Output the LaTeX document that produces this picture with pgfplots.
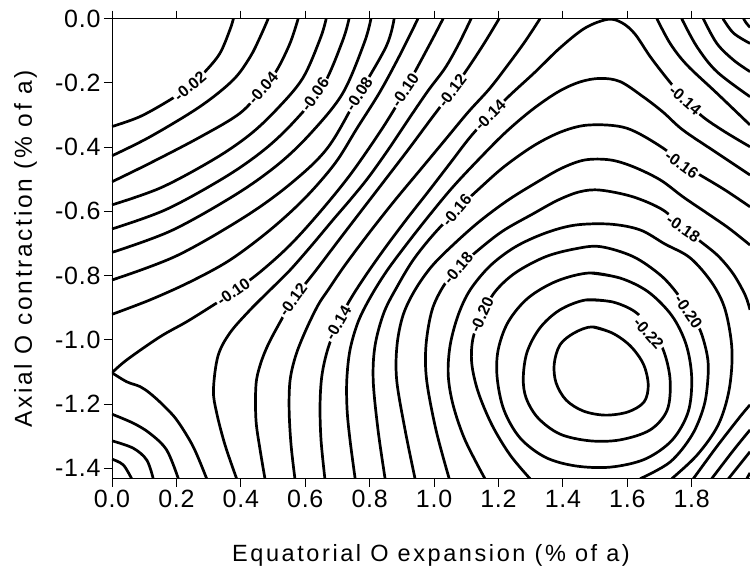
\documentclass[border=0pt]{standalone}
\usepackage{fontspec}
\setmainfont{Liberation Sans}
\newfontfamily\tickfont[LetterSpace=3]{Liberation Sans}
\newfontfamily\labfont[LetterSpace=11]{Liberation Sans}
\usepackage{pgfplots}
\pgfplotsset{compat=1.18}
\tikzset{clab/.style={fill=white,inner sep=1.6pt,font=\bfseries\fontsize{16}{16}\selectfont}}
\begin{document}
\begin{tikzpicture}
\useasboundingbox (0,0) rectangle (750pt,570pt);
\begin{axis}[
  at={(112pt,91.3pt)}, anchor=south west,
  scale only axis, width=638pt, height=460pt,
  xmin=0, xmax=1.981, ymin=-1.433, ymax=0,
  axis y line*=left,
  axis line style={black, line width=0.8pt},
  tick align=outside, major tick length=8pt,
  tick style={black, line width=0.8pt},
  xtick={0,0.2,0.4,0.6,0.8,1.0,1.2,1.4,1.6,1.8},
  xticklabels={0.0,0.2,0.4,0.6,0.8,1.0,1.2,1.4,1.6,1.8},
  ytick={0,-0.2,-0.4,-0.6,-0.8,-1.0,-1.2,-1.4},
  yticklabels={0.0,-0.2,-0.4,-0.6,-0.8,-1.0,-1.2,-1.4},
  ticklabel style={font={\tickfont\fontsize{25}{25}\selectfont}},
  xlabel={Equatorial O expansion (\% of a)},
  ylabel={Axial O contraction (\% of a)},
  xlabel style={at={(axis description cs:0.5,-0.1804)}, anchor=base, font={\labfont\fontsize{23.5}{24}\selectfont}},
  ylabel style={at={(axis description cs:-0.1254,0.5)}, anchor=base, font={\labfont\fontsize{24.5}{25}\selectfont}},
  cycle list={{black, solid, mark=none}},
  every axis plot/.append style={line width=2.7pt, smooth, tension=0.55, line join=round},
]
% -0.02 ... -0.09 (left edge to top)
\addplot coordinates {(0,-0.336) (0.087,-0.305) (0.180,-0.253) (0.242,-0.210) (0.289,-0.165) (0.335,-0.108) (0.366,-0.035) (0.377,0)};
\addplot coordinates {(0,-0.427) (0.118,-0.368) (0.273,-0.274) (0.376,-0.191) (0.429,-0.119) (0.460,-0.057) (0.485,0)};
\addplot coordinates {(0,-0.508) (0.118,-0.450) (0.273,-0.369) (0.398,-0.294) (0.469,-0.216) (0.512,-0.160) (0.553,-0.076) (0.578,0)};
\addplot coordinates {(0,-0.580) (0.153,-0.526) (0.318,-0.437) (0.427,-0.362) (0.510,-0.284) (0.592,-0.186) (0.647,-0.061) (0.665,0)};
\addplot coordinates {(0,-0.655) (0.169,-0.594) (0.352,-0.493) (0.473,-0.408) (0.565,-0.321) (0.655,-0.210) (0.716,-0.069) (0.736,0)};
\addplot coordinates {(0,-0.728) (0.185,-0.660) (0.384,-0.548) (0.517,-0.453) (0.617,-0.357) (0.716,-0.233) (0.783,-0.076) (0.804,0)};
\addplot coordinates {(0,-0.814) (0.202,-0.738) (0.419,-0.613) (0.563,-0.507) (0.672,-0.399) (0.767,-0.235) (0.852,-0.085) (0.876,0)};
\addplot coordinates {(0,-0.921) (0.118,-0.876) (0.242,-0.820) (0.366,-0.752) (0.491,-0.658) (0.599,-0.559) (0.693,-0.450) (0.761,-0.341) (0.832,-0.228) (0.894,-0.113) (0.950,0)};
% -0.10 (saddle at left edge)
\addplot coordinates {(0,-1.103) (0.0457,-1.063) (0.149,-0.991) (0.232,-0.944) (0.315,-0.892) (0.377,-0.851) (0.460,-0.789) (0.553,-0.705) (0.646,-0.602) (0.739,-0.487) (0.826,-0.362) (0.879,-0.278) (0.910,-0.222) (0.957,-0.135) (0.997,-0.060) (1.028,0)};
\addplot coordinates {(0,-1.103) (0.0457,-1.131) (0.087,-1.146) (0.118,-1.167) (0.158,-1.203) (0.201,-1.250) (0.252,-1.333) (0.294,-1.433)};
% -0.11
\addplot coordinates {(1.115,0) (1.075,-0.082) (1.034,-0.154) (0.981,-0.225) (0.919,-0.316) (0.857,-0.409) (0.795,-0.496) (0.739,-0.565) (0.686,-0.627) (0.621,-0.705) (0.553,-0.783) (0.491,-0.845) (0.429,-0.907) (0.366,-0.979) (0.329,-1.051) (0.315,-1.157) (0.325,-1.228) (0.351,-1.328) (0.387,-1.433)};
% -0.12
\addplot coordinates {(1.202,0) (1.158,-0.073) (1.112,-0.144) (1.056,-0.225) (0.988,-0.316) (0.919,-0.409) (0.848,-0.502) (0.776,-0.596) (0.705,-0.689) (0.634,-0.783) (0.562,-0.876) (0.522,-0.945) (0.484,-1.017) (0.460,-1.079) (0.447,-1.141) (0.447,-1.250) (0.460,-1.344) (0.475,-1.433)};
% -0.13
\addplot coordinates {(1.329,0) (1.286,-0.066) (1.236,-0.135) (1.174,-0.216) (1.106,-0.291) (1.034,-0.378) (0.957,-0.471) (0.879,-0.565) (0.801,-0.664) (0.724,-0.767) (0.671,-0.845) (0.640,-0.892) (0.602,-0.970) (0.571,-1.048) (0.553,-1.126) (0.550,-1.219) (0.556,-1.328) (0.568,-1.433)};
% -0.14
\addplot coordinates {(0.661,-1.433) (0.649,-1.312) (0.646,-1.203) (0.652,-1.110) (0.671,-1.026) (0.702,-0.948) (0.739,-0.876) (0.789,-0.798) (0.848,-0.714) (0.913,-0.627) (0.981,-0.540) (1.050,-0.450) (1.112,-0.369) (1.174,-0.300) (1.236,-0.238) (1.314,-0.166) (1.391,-0.091) (1.469,-0.029) (1.540,-0.002) (1.584,-0.013) (1.624,-0.048) (1.671,-0.118) (1.727,-0.191) (1.780,-0.253) (1.835,-0.306) (1.904,-0.353) (1.981,-0.399)};
% -0.15
\addplot coordinates {(0.755,-1.433) (0.739,-1.312) (0.730,-1.219) (0.729,-1.126) (0.739,-1.032) (0.764,-0.945) (0.801,-0.870) (0.851,-0.789) (0.913,-0.705) (0.981,-0.618) (1.056,-0.527) (1.137,-0.440) (1.220,-0.356) (1.304,-0.284) (1.385,-0.228) (1.453,-0.197) (1.516,-0.186) (1.578,-0.196) (1.649,-0.243) (1.711,-0.291) (1.773,-0.347) (1.878,-0.418) (1.981,-0.487)};
% -0.16
\addplot coordinates {(0.848,-1.433) (0.826,-1.281) (0.811,-1.126) (0.817,-1.017) (0.845,-0.914) (0.888,-0.830) (0.935,-0.752) (0.994,-0.677) (1.070,-0.596) (1.143,-0.527) (1.220,-0.459) (1.314,-0.393) (1.401,-0.350) (1.484,-0.331) (1.598,-0.341) (1.711,-0.403) (1.769,-0.454) (1.826,-0.487) (1.904,-0.534) (1.981,-0.586)};
% -0.17
\addplot coordinates {(0.941,-1.433) (0.910,-1.281) (0.884,-1.126) (0.885,-1.017) (0.904,-0.923) (0.941,-0.845) (0.994,-0.770) (1.065,-0.699) (1.143,-0.630) (1.230,-0.565) (1.320,-0.509) (1.398,-0.465) (1.469,-0.440) (1.547,-0.440) (1.618,-0.461) (1.702,-0.502) (1.773,-0.555) (1.842,-0.602) (1.909,-0.648) (1.950,-0.680) (1.981,-0.705)};
% -0.18
\addplot coordinates {(1.047,-1.433) (1.006,-1.281) (0.977,-1.126) (0.975,-1.017) (0.994,-0.907) (1.031,-0.830) (1.075,-0.777) (1.137,-0.721) (1.214,-0.661) (1.307,-0.608) (1.385,-0.565) (1.453,-0.539) (1.516,-0.534) (1.618,-0.555) (1.711,-0.596) (1.774,-0.653) (1.826,-0.693) (1.882,-0.739) (1.929,-0.795) (1.966,-0.861) (1.981,-0.907)};
\addplot coordinates {(1.981,-1.203) (1.950,-1.240) (1.878,-1.333) (1.805,-1.433)};
% -0.19
\addplot coordinates {(1.158,-1.433) (1.096,-1.312) (1.059,-1.203) (1.044,-1.110) (1.050,-1.017) (1.075,-0.923) (1.112,-0.845) (1.174,-0.770) (1.252,-0.711) (1.345,-0.668) (1.438,-0.643) (1.547,-0.640) (1.640,-0.658) (1.717,-0.702) (1.795,-0.745) (1.863,-0.823) (1.904,-0.907) (1.925,-1.032) (1.916,-1.157) (1.882,-1.266) (1.817,-1.359) (1.738,-1.433)};
% -0.20
\addplot coordinates {(1.298,-1.433) (1.236,-1.359) (1.180,-1.266) (1.137,-1.163) (1.117,-1.073) (1.121,-0.995) (1.148,-0.923) (1.189,-0.851) (1.252,-0.792) (1.345,-0.742) (1.438,-0.717) (1.516,-0.710) (1.618,-0.741) (1.702,-0.798) (1.754,-0.855) (1.790,-0.913) (1.826,-0.970) (1.848,-1.048) (1.851,-1.110) (1.839,-1.203) (1.801,-1.297) (1.733,-1.381) (1.640,-1.433)};
% -0.21
\addplot coordinates {(1.484,-0.792) (1.578,-0.808) (1.665,-0.851) (1.739,-0.926) (1.783,-1.016) (1.800,-1.119) (1.789,-1.225) (1.739,-1.313) (1.655,-1.372) (1.547,-1.397) (1.438,-1.393) (1.345,-1.366) (1.267,-1.306) (1.217,-1.219) (1.196,-1.119) (1.199,-1.032) (1.230,-0.945) (1.292,-0.870) (1.382,-0.817) (1.484,-0.792) (1.578,-0.808)};
% -0.22
\addplot coordinates {(1.472,-0.876) (1.553,-0.882) (1.624,-0.913) (1.677,-0.970) (1.714,-1.038) (1.733,-1.126) (1.724,-1.219) (1.671,-1.281) (1.578,-1.312) (1.484,-1.315) (1.391,-1.294) (1.323,-1.244) (1.286,-1.182) (1.277,-1.119) (1.289,-1.038) (1.329,-0.963) (1.391,-0.907) (1.472,-0.876) (1.553,-0.882)};
% -0.23
\addplot coordinates {(1.491,-0.960) (1.553,-0.979) (1.609,-1.019) (1.650,-1.076) (1.665,-1.141) (1.652,-1.194) (1.602,-1.225) (1.531,-1.235) (1.463,-1.222) (1.410,-1.188) (1.379,-1.135) (1.373,-1.076) (1.391,-1.016) (1.435,-0.979) (1.491,-0.960) (1.553,-0.979)};
% bottom-left corner
\addplot coordinates {(0,-1.232) (0.066,-1.260) (0.118,-1.292) (0.170,-1.344) (0.206,-1.433)};
\addplot coordinates {(0,-1.315) (0.066,-1.338) (0.108,-1.375) (0.128,-1.433)};
\addplot coordinates {(0,-1.372) (0.035,-1.390) (0.061,-1.433)};
% top-right corner
\addplot coordinates {(1.961,0) (1.969,-0.013) (1.981,-0.027)};
\addplot coordinates {(1.897,0) (1.930,-0.045) (1.981,-0.077)};
\addplot coordinates {(1.836,0) (1.878,-0.077) (1.930,-0.129) (1.981,-0.165)};
\addplot coordinates {(1.769,0) (1.816,-0.087) (1.878,-0.165) (1.981,-0.243)};
\addplot coordinates {(1.692,0) (1.733,-0.077) (1.785,-0.144) (1.878,-0.232) (1.981,-0.331)};
% bottom-right corner
\addplot coordinates {(1.862,-1.433) (1.930,-1.344) (1.981,-1.281)};
\addplot coordinates {(1.914,-1.433) (1.981,-1.349)};
\addplot coordinates {(1.971,-1.433) (1.981,-1.415)};
% contour labels
\node[clab,rotate=40] at (axis cs:0.242,-0.210) {-0.02};
\node[clab,rotate=49] at (axis cs:0.469,-0.216) {-0.04};
\node[clab,rotate=55] at (axis cs:0.630,-0.236) {-0.06};
\node[clab,rotate=57] at (axis cs:0.767,-0.235) {-0.08};
\node[clab,rotate=56] at (axis cs:0.910,-0.222) {-0.10};
\node[clab,rotate=35] at (axis cs:0.377,-0.851) {-0.10};
\node[clab,rotate=53] at (axis cs:1.056,-0.225) {-0.12};
\node[clab,rotate=54] at (axis cs:0.562,-0.876) {-0.12};
\node[clab,rotate=60] at (axis cs:0.702,-0.948) {-0.14};
\node[clab,rotate=45] at (axis cs:1.174,-0.300) {-0.14};
\node[clab,rotate=-41] at (axis cs:1.780,-0.253) {-0.14};
\node[clab,rotate=50] at (axis cs:1.070,-0.596) {-0.16};
\node[clab,rotate=-36] at (axis cs:1.769,-0.454) {-0.16};
\node[clab,rotate=50] at (axis cs:1.075,-0.777) {-0.18};
\node[clab,rotate=-34] at (axis cs:1.774,-0.653) {-0.18};
\node[clab,rotate=65] at (axis cs:1.148,-0.923) {-0.20};
\node[clab,rotate=-56] at (axis cs:1.790,-0.913) {-0.20};
\node[clab,rotate=-49] at (axis cs:1.666,-0.980) {-0.22};
\end{axis}
\end{tikzpicture}
\end{document}
